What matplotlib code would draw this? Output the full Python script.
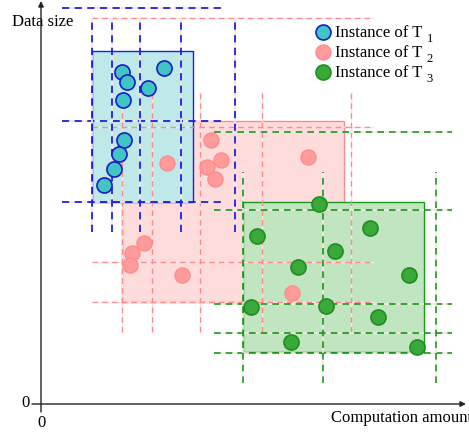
import matplotlib
matplotlib.use("Agg")
import matplotlib.pyplot as plt
from matplotlib.patches import Rectangle
from matplotlib.lines import Line2D

plt.rcParams['font.family'] = ['Liberation Serif', 'DejaVu Serif']

# ---- data (chart units; origin at axes crossing) ----
t1_x = [81.3, 86.3, 107.3, 123.3, 82.3, 83.0, 78.3, 73.0, 63.0]
t1_y = [332.3, 322.3, 316.0, 336.0, 304.3, 263.7, 249.7, 234.7, 218.7]
t2_x = [125.7, 169.7, 179.7, 165.7, 174.0, 267.3, 103.0, 91.3, 89.0, 141.3, 251.3]
t2_y = [240.7, 264.0, 243.7, 236.7, 224.7, 247.3, 161.3, 150.7, 139.0, 129.0, 110.7]
t3_x = [278.3, 216.0, 329.0, 293.7, 257.0, 368.0, 210.0, 284.7, 336.7, 250.3, 376.3]
t3_y = [200.0, 168.3, 176.3, 153.0, 136.7, 129.3, 97.0, 98.3, 86.7, 62.3, 56.7]

# bounding boxes (x0, x1, y0, y1)
t1_box = (51, 152, 202, 353)
t2_box = (81, 303, 102, 283)
t3_box = (202, 383, 52, 202)

# grid of dashed guide lines
t1_hlines = [396, 283, 202]
t1_hspan = (21, 180)
t1_vlines = [51, 71, 99, 140, 194]
t1_vspan = (172, 386)

t2_hlines = [386, 277, 142, 102]
t2_hspan = (51, 333)
t2_vlines = [81, 111, 159, 221, 310]
t2_vspan = (72, 312)

t3_hlines = [272, 194, 100, 71, 51]
t3_hspan = (173, 411)
t3_vlines = [202, 282, 395]
t3_vspan = (21, 232)

label_base = 'Instance of T'
label_subs = ['1', '2', '3']

# ---- styles ----
c1_line, c1_fill, c1_pt, c1_edge = '#1f1fe0', '#bfe9e9', '#40c4c4', '#1a1acc'
c2_line, c2_fill, c2_pt, c2_edge = '#ff8a8a', '#ffdcdc', '#ff9b9b', '#ff8c8c'
c3_line, c3_fill, c3_pt, c3_edge = '#1a9a1a', '#c1e5c1', '#3aa83a', '#1e8f1e'

fig = plt.figure(figsize=(4.69, 4.32), dpi=100)
ax = fig.add_axes([0, 0, 1, 1])
ax.set_xlim(-41, 428)
ax.set_ylim(-28, 404)
ax.axis('off')

def box(b, fc, ec, z):
    x0, x1, y0, y1 = b
    ax.add_patch(Rectangle((x0, y0), x1 - x0, y1 - y0, facecolor=fc,
                           edgecolor=ec, lw=1.0, zorder=z))

box(t2_box, c2_fill, c2_line, 1)
box(t1_box, c1_fill, c1_line, 2)
box(t3_box, c3_fill, c3_line, 2)

def guides(hl, hs, vl, vs, col, lw):
    kw = dict(color=col, lw=lw, ls=(0, (4, 3)), gapcolor='#f7e6e6', zorder=3)
    for y in hl:
        ax.plot(hs, [y, y], **kw)
    for x in vl:
        ax.plot([x, x], vs, **kw)

guides(t2_hlines, t2_hspan, t2_vlines, t2_vspan, c2_line, 1.0)
guides(t1_hlines, t1_hspan, t1_vlines, t1_vspan, c1_line, 1.3)
guides(t3_hlines, t3_hspan, t3_vlines, t3_vspan, c3_line, 1.2)

ms = 118
ax.scatter(t2_x, t2_y, s=ms, c=c2_pt, edgecolors=c2_edge, linewidths=1.0, zorder=5)
ax.scatter(t1_x, t1_y, s=ms, c=c1_pt, edgecolors=c1_edge, linewidths=1.2, zorder=5)
ax.scatter(t3_x, t3_y, s=ms, c=c3_pt, edgecolors=c3_edge, linewidths=1.2, zorder=5)

# axes with arrows
ax.annotate('', xy=(0, 403), xytext=(0, -8),
            arrowprops=dict(arrowstyle='-|>', color='#222222', lw=1.0,
                            mutation_scale=8, shrinkA=0, shrinkB=0), zorder=6)
ax.annotate('', xy=(425, 0), xytext=(-9, 0),
            arrowprops=dict(arrowstyle='-|>', color='#222222', lw=1.0,
                            mutation_scale=8, shrinkA=0, shrinkB=0), zorder=6)

ax.text(-29, 382, 'Data size', fontsize=12, va='center', ha='left')
ax.text(290, -14, 'Computation amount', fontsize=12, va='center', ha='left')
ax.text(-16, 1, '0', fontsize=12, va='center', ha='center')
ax.text(0, -19, '0', fontsize=12, va='center', ha='center')

handles = [
    Line2D([], [], ls='', marker='o', ms=10.8, mfc=c1_pt, mec=c1_edge, mew=1.2),
    Line2D([], [], ls='', marker='o', ms=10.8, mfc=c2_pt, mec=c2_edge, mew=1.0),
    Line2D([], [], ls='', marker='o', ms=10.8, mfc=c3_pt, mec=c3_edge, mew=1.2),
]
leg = ax.legend(handles, [label_base] * 3, loc='upper left',
                bbox_to_anchor=(0.649, 0.968),
                frameon=False, fontsize=12, handlelength=0.8, handletextpad=0.35,
                labelspacing=0.24, borderpad=0.2)

# subscripts placed after each legend text
fig.canvas.draw()
r = fig.canvas.get_renderer()
for t, sub in zip(leg.get_texts(), label_subs):
    bb = t.get_window_extent(r)
    fig.text((bb.x1 + 4) / fig.bbox.width, (bb.y0 - 0.5) / fig.bbox.height, sub,
             fontsize=9, ha='left', va='baseline')

fig.savefig('out.png', dpi=100)
